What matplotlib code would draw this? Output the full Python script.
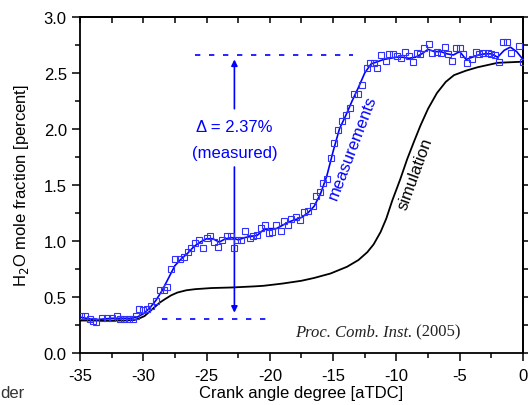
import matplotlib
matplotlib.use("Agg")
import matplotlib.pyplot as plt
from matplotlib.ticker import MultipleLocator

plt.rcParams['font.family'] = ['Liberation Sans', 'DejaVu Sans']

# measured H2O mole fraction (squares)
meas_x = [-34.9, -34.6, -34.2, -34.0, -33.7, -33.3, -32.9, -32.5, -32.1, -31.8,
          -31.5, -31.15, -30.8, -30.55, -30.3, -30.0, -29.7, -29.4, -29.0, -28.7,
          -28.4, -28.1, -27.8, -27.5, -27.1, -26.8, -26.5, -26.2, -25.9, -25.6,
          -25.3, -25.0, -24.7, -24.4, -24.1, -23.8, -23.4, -23.1, -22.85, -22.6,
          -22.3, -22.0, -21.6, -21.3, -21.0, -20.7, -20.4, -20.1, -19.8, -19.5,
          -19.15, -18.9, -18.55, -18.3, -17.95, -17.6, -17.3, -16.95, -16.6, -16.35,
          -16.0, -15.8, -15.5, -15.2, -14.9, -14.6, -14.3, -14.0, -13.65, -13.35,
          -13.0, -12.75, -12.35, -12.1, -11.75, -11.5, -11.2, -10.85, -10.6, -10.25,
          -9.95, -9.6, -9.3, -9.0, -8.7, -8.4, -8.1, -7.8, -7.45, -7.15,
          -6.8, -6.5, -6.2, -5.9, -5.6, -5.3, -5.0, -4.7, -4.4, -4.05,
          -3.75, -3.45, -3.15, -2.8, -2.5, -2.2, -1.9, -1.6, -1.3, -0.95,
          -0.35, 0.0]
meas_y = [0.33, 0.33, 0.30, 0.29, 0.28, 0.315, 0.31, 0.31, 0.33, 0.30,
          0.305, 0.305, 0.30, 0.33, 0.39, 0.38, 0.39, 0.42, 0.46, 0.565,
          0.565, 0.585, 0.75, 0.84, 0.84, 0.86, 0.90, 0.94, 0.98, 1.01,
          0.935, 1.03, 1.04, 0.99, 0.95, 1.01, 1.04, 1.04, 0.935, 1.01,
          1.01, 1.09, 1.03, 1.04, 1.05, 1.115, 1.14, 1.07, 1.08, 1.14,
          1.09, 1.175, 1.14, 1.20, 1.21, 1.19, 1.255, 1.27, 1.315, 1.405,
          1.44, 1.52, 1.55, 1.74, 1.87, 1.99, 2.07, 2.125, 2.185, 2.31,
          2.31, 2.39, 2.54, 2.59, 2.59, 2.54, 2.66, 2.61, 2.665, 2.665,
          2.65, 2.635, 2.69, 2.65, 2.60, 2.68, 2.665, 2.72, 2.76, 2.68,
          2.69, 2.68, 2.735, 2.67, 2.61, 2.72, 2.72, 2.665, 2.59, 2.62,
          2.69, 2.665, 2.68, 2.68, 2.67, 2.66, 2.60, 2.78, 2.78, 2.68,
          2.74, 2.60]

# smoothed measurement curve
fit_x = [-35, -34.5, -34, -33.5, -33, -32.5, -32, -31.5, -31, -30.5,
         -30, -29.5, -29, -28.5, -28, -27.5, -27, -26.5, -26, -25.5,
         -25, -24.5, -24, -23.5, -23, -22.5, -22, -21.5, -21, -20.5,
         -20, -19.5, -19, -18.5, -18, -17.5, -17, -16.5, -16, -15.5,
         -15, -14.5, -14, -13.5, -13, -12.5, -12, -11.5, -11, -10.5,
         -10, -9.5, -9, -8.5, -8, -7.5, -7, -6.5, -6, -5.5,
         -5, -4.5, -4, -3.5, -3, -2.5, -2, -1.5, -1, -0.5, 0]
fit_y = [0.32, 0.31, 0.30, 0.30, 0.305, 0.31, 0.31, 0.31, 0.31, 0.32,
         0.35, 0.40, 0.47, 0.56, 0.67, 0.78, 0.84, 0.89, 0.95, 0.99,
         1.02, 1.02, 0.99, 1.02, 1.03, 1.01, 1.03, 1.04, 1.05, 1.10,
         1.11, 1.11, 1.14, 1.17, 1.19, 1.21, 1.25, 1.31, 1.42, 1.58,
         1.80, 2.00, 2.12, 2.25, 2.37, 2.50, 2.58, 2.60, 2.62, 2.63,
         2.64, 2.64, 2.63, 2.64, 2.67, 2.71, 2.69, 2.69, 2.67, 2.66,
         2.69, 2.62, 2.64, 2.66, 2.67, 2.67, 2.64, 2.70, 2.73, 2.69, 2.62]

# simulation
sim_x = [-35, -33, -31.5, -30.7, -30.3, -29.9, -29.5, -29.1, -28.7, -28.3,
         -27.8, -27.3, -26.6, -25.9, -24.6, -23, -21.2, -20.5, -19, -17.5,
         -16.5, -15.2, -13.9, -13, -12.3, -11.8, -11.25, -10.8, -10.33, -9.7,
         -9.15, -8.6, -8.1, -7.5, -6.8, -6.1, -5.45, -4.5, -3.6, -2.8,
         -2.0, -1, 0]
sim_y = [0.29, 0.29, 0.29, 0.295, 0.31, 0.33, 0.37, 0.41, 0.45, 0.48,
         0.515, 0.54, 0.56, 0.57, 0.58, 0.585, 0.595, 0.60, 0.62, 0.645,
         0.67, 0.71, 0.77, 0.83, 0.90, 0.97, 1.08, 1.20, 1.36, 1.55,
         1.73, 1.89, 2.03, 2.18, 2.32, 2.42, 2.48, 2.52, 2.55, 2.57,
         2.59, 2.595, 2.60]

x_ticks = [-35, -30, -25, -20, -15, -10, -5, 0]
y_ticks = [0.0, 0.5, 1.0, 1.5, 2.0, 2.5, 3.0]

blue = '#0000ff'

fig = plt.figure(figsize=(5.28, 4.06), dpi=100)
ax = fig.add_axes([0.1515, 0.128, 0.839, 0.828])

ax.plot(sim_x, sim_y, color='black', lw=1.3, zorder=3)
ax.plot(fit_x, fit_y, color=blue, lw=1.2, zorder=4)
ax.plot(meas_x, meas_y, ls='none', marker='s', ms=4.5, mfc='none',
        mec='#3030ff', mew=0.8, zorder=5)

# delta annotation
ax.plot([-25.9, -13.4], [2.66, 2.66], color=blue, lw=1.2, dashes=(3.2, 5.2))
ax.plot([-28.5, -20.2], [0.306, 0.306], color=blue, lw=1.2, dashes=(3.2, 5.2))
arr = dict(arrowstyle='-|>', color=blue, lw=1.2, mutation_scale=9,
           shrinkA=0, shrinkB=0)
ax.annotate('', xy=(-22.8, 2.62), xytext=(-22.8, 2.18), arrowprops=arr)
ax.annotate('', xy=(-22.8, 0.36), xytext=(-22.8, 1.66), arrowprops=arr)
ax.text(-22.8, 2.02, 'Δ = 2.37%', color=blue, fontsize=12,
        ha='center', va='center')
ax.text(-22.8, 1.79, '(measured)', color=blue, fontsize=12,
        ha='center', va='center')

ax.text(-13.45, 1.84, 'measurements', color=blue, fontsize=12, rotation=69,
        ha='center', va='center', rotation_mode='anchor')
ax.text(-8.5, 1.61, 'simulation', color='black', fontsize=12, rotation=70,
        ha='center', va='center', rotation_mode='anchor')

src = ax.text(-18.0, 0.19, 'Proc. Comb. Inst.', fontsize=12, style='italic',
              ha='left', va='center', family='Liberation Serif', color='#222222')
ax.annotate(' (2005)', xy=(1, 0.5), xycoords=src, fontsize=12, ha='left',
            va='center', family='Liberation Serif', color='#222222')

ax.set_xlim(-35, 0)
ax.set_ylim(0, 3.0)
ax.set_xticks(x_ticks)
ax.set_xticklabels([str(v) for v in x_ticks])
ax.set_yticks(y_ticks)
ax.set_yticklabels(['%.1f' % v for v in y_ticks])
ax.xaxis.set_minor_locator(MultipleLocator(2.5))
ax.yaxis.set_minor_locator(MultipleLocator(0.25))
ax.tick_params(which='major', direction='out', length=6, width=1.1,
               labelsize=12, colors='black')
ax.tick_params(axis='x', which='major', pad=4.5)
ax.tick_params(which='minor', direction='out', length=3.5, width=1.1)

top = ax.secondary_xaxis('top')
top.xaxis.set_major_locator(MultipleLocator(2.5))
top.tick_params(direction='in', length=4.5, width=1.1, labeltop=False)
right = ax.secondary_yaxis('right')
right.yaxis.set_major_locator(MultipleLocator(0.25))
right.tick_params(direction='out', length=3.5, width=1.1, labelright=False)

for s in list(ax.spines.values()) + [top.spines['top'], right.spines['right']]:
    s.set_linewidth(1.3)

ax.set_xlabel('Crank angle degree [aTDC]', fontsize=12, labelpad=2)
ax.set_ylabel(r'H$_2$O mole fraction [percent]', fontsize=12, labelpad=9)

fig.text(0.0, 0.03, 'der', fontsize=12, color='#333333', ha='left', va='center')

fig.savefig('out.png', dpi=100)
